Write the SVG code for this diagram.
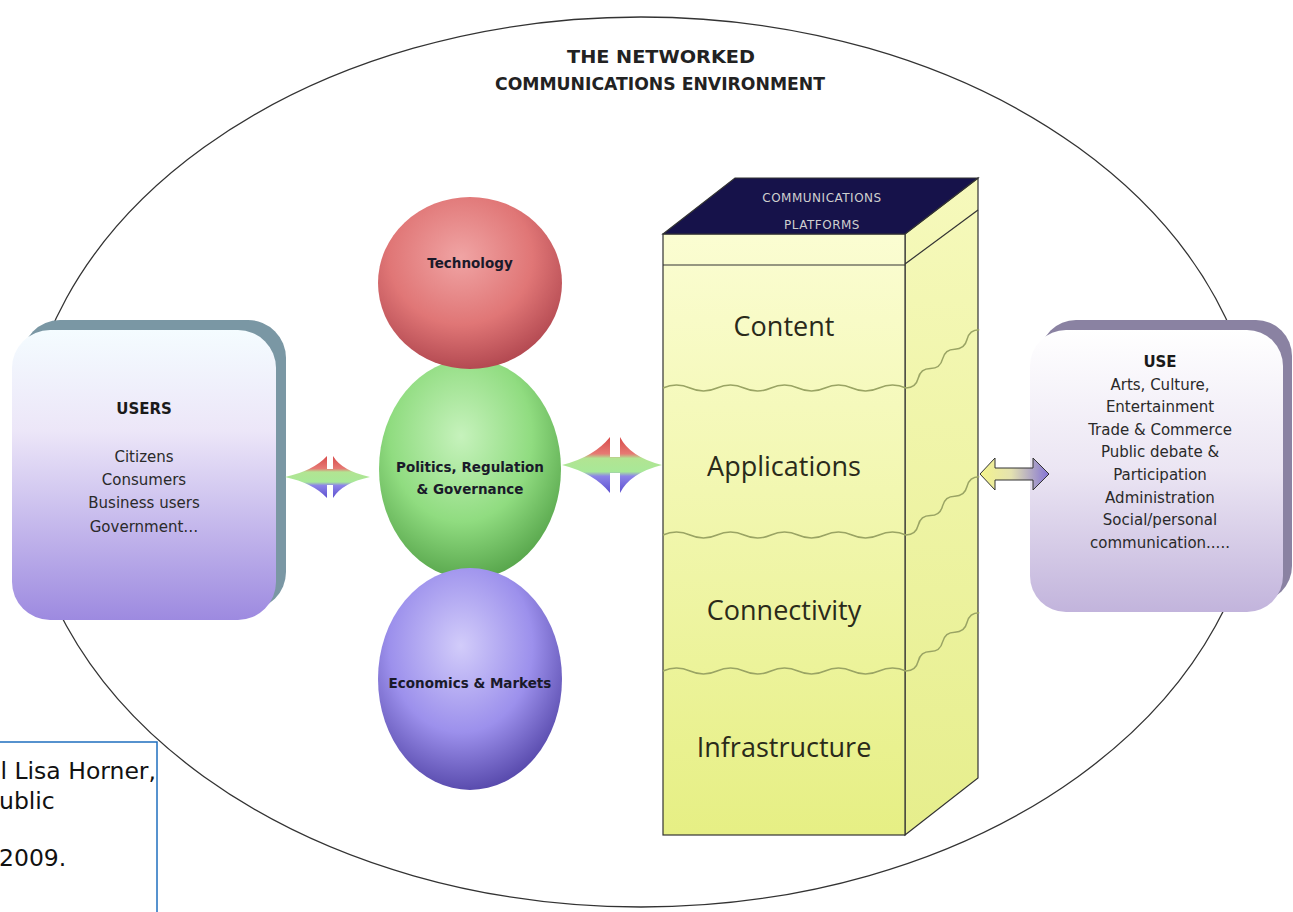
<svg xmlns="http://www.w3.org/2000/svg" width="1293" height="912" viewBox="0 0 1293 912">
<defs>
<style>
.ttl{font-family:"DejaVu Sans",sans-serif;font-weight:bold;font-size:17px;fill:#222;text-anchor:middle}
.sph{font-family:"DejaVu Sans",sans-serif;font-weight:bold;font-size:13.5px;fill:#1a1a2a;text-anchor:middle}
.box{font-family:"DejaVu Sans",sans-serif;font-size:15px;fill:#2a2a2a;text-anchor:middle}
.boxb{font-family:"DejaVu Sans",sans-serif;font-size:15px;font-weight:bold;fill:#1a1a1a;text-anchor:middle}
.layer{font-family:"Open Sans",sans-serif;font-size:27px;fill:#2a2a1a;text-anchor:middle}
.plat{font-family:"DejaVu Sans",sans-serif;font-size:12px;fill:#cfcfcf;text-anchor:middle;letter-spacing:0.5px}
.cite{font-family:"DejaVu Sans",sans-serif;font-size:23.5px;fill:#111}
.wave{fill:none;stroke:#9aa464;stroke-width:1.5}
.edge{stroke:#333;stroke-width:1.2}
</style>
<linearGradient id="gUsers" x1="0" y1="0" x2="0" y2="1">
<stop offset="0" stop-color="#f4fcff"/><stop offset="0.35" stop-color="#ece6f8"/><stop offset="1" stop-color="#9d8ae0"/>
</linearGradient>
<linearGradient id="gUse" x1="0" y1="0" x2="0" y2="1">
<stop offset="0" stop-color="#ffffff"/><stop offset="0.5" stop-color="#ebe5f3"/><stop offset="1" stop-color="#c2b4dc"/>
</linearGradient>
<radialGradient id="gRed" cx="0.45" cy="0.35" r="0.65">
<stop offset="0" stop-color="#f0a4a4"/><stop offset="0.6" stop-color="#e07676"/><stop offset="1" stop-color="#b44a52"/>
</radialGradient>
<radialGradient id="gGreen" cx="0.45" cy="0.35" r="0.65">
<stop offset="0" stop-color="#c6f2bc"/><stop offset="0.6" stop-color="#90dc80"/><stop offset="1" stop-color="#5aa84e"/>
</radialGradient>
<radialGradient id="gPurple" cx="0.45" cy="0.35" r="0.65">
<stop offset="0" stop-color="#d2ccfa"/><stop offset="0.6" stop-color="#9c90ec"/><stop offset="1" stop-color="#5a4cae"/>
</radialGradient>
<linearGradient id="gFront" x1="0" y1="0" x2="0" y2="1">
<stop offset="0" stop-color="#fbfdd2"/><stop offset="1" stop-color="#e6ef84"/>
</linearGradient>
<linearGradient id="gSide" x1="0" y1="0" x2="0" y2="1">
<stop offset="0" stop-color="#f6f9bc"/><stop offset="1" stop-color="#e6ee8c"/>
</linearGradient>
<linearGradient id="gTri" x1="0" y1="0" x2="0" y2="1">
<stop offset="0" stop-color="#d84a4a"/><stop offset="0.3" stop-color="#e67a74"/><stop offset="0.38" stop-color="#b2e492"/><stop offset="0.62" stop-color="#a8e898"/><stop offset="0.7" stop-color="#8c84e8"/><stop offset="1" stop-color="#5e50d0"/>
</linearGradient>
<linearGradient id="gYP" x1="0" y1="0" x2="1" y2="0">
<stop offset="0" stop-color="#f4f48c"/><stop offset="0.45" stop-color="#e4e2b0"/><stop offset="1" stop-color="#8474d6"/>
</linearGradient>
</defs>
<rect width="1293" height="912" fill="#ffffff"/>

<g id="environment">
<ellipse cx="641" cy="462" rx="618" ry="445" fill="none" stroke="#333" stroke-width="1.3"/>
<text class="ttl" x="661" y="63" textLength="188" lengthAdjust="spacingAndGlyphs">THE NETWORKED</text>
<text class="ttl" x="660" y="90" textLength="330" lengthAdjust="spacingAndGlyphs">COMMUNICATIONS ENVIRONMENT</text>
</g>

<g id="users">
<rect x="22" y="320" width="264" height="290" rx="38" fill="#7a97a4"/>
<rect x="12" y="330" width="264" height="290" rx="38" fill="url(#gUsers)"/>
<text class="boxb" x="144" y="414">USERS</text>
<text class="box" x="144" y="462">Citizens</text>
<text class="box" x="144" y="485">Consumers</text>
<text class="box" x="144" y="508">Business users</text>
<text class="box" x="144" y="532">Government…</text>
</g>

<g id="use">
<rect x="1040" y="320" width="252" height="282" rx="36" fill="#8a82a2"/>
<rect x="1030" y="330" width="253" height="282" rx="36" fill="url(#gUse)"/>
<text class="boxb" x="1160" y="367">USE</text>
<text class="box" x="1160" y="390">Arts, Culture,</text>
<text class="box" x="1160" y="412">Entertainment</text>
<text class="box" x="1160" y="435">Trade &amp; Commerce</text>
<text class="box" x="1160" y="457">Public debate &amp;</text>
<text class="box" x="1160" y="480">Participation</text>
<text class="box" x="1160" y="503">Administration</text>
<text class="box" x="1160" y="525">Social/personal</text>
<text class="box" x="1160" y="548">communication.....</text>
</g>

<g id="politics">
<ellipse cx="470" cy="469" rx="91" ry="110" fill="url(#gGreen)"/>
<text class="sph" x="470" y="472">Politics, Regulation</text>
<text class="sph" x="470" y="494">&amp; Governance</text>
</g>
<g id="technology">
<ellipse cx="470" cy="283" rx="92" ry="86" fill="url(#gRed)"/>
<text class="sph" x="470" y="268">Technology</text>
</g>
<g id="economics">
<ellipse cx="470" cy="679" rx="92" ry="111" fill="url(#gPurple)"/>
<text class="sph" x="470" y="688">Economics &amp; Markets</text>
</g>

<g id="platforms">
<polygon points="905,234 978,178 978,778 905,835" fill="url(#gSide)" class="edge"/>
<rect x="663" y="234" width="242" height="601" fill="url(#gFront)" class="edge"/>
<polygon points="663,234 735,178 978,178 905,234" fill="#16124a" class="edge"/>
<line x1="663" y1="265" x2="905" y2="265" class="edge"/>
<line x1="905" y1="264" x2="978" y2="210" class="edge"/>
<path class="wave" d="M663,388 q13.5,-6 27,0 t27,0 t27,0 t27,0 t27,0 t27,0 t27,0 t27,0 t27,0 q9.8,-0.1 12.2,-9.7 t12.2,-9.7 t12.2,-9.7 t12.2,-9.7 t12.2,-9.7 t12.2,-9.7"/>
<path class="wave" d="M663,535 q13.5,-6 27,0 t27,0 t27,0 t27,0 t27,0 t27,0 t27,0 t27,0 t27,0 q9.8,-0.1 12.2,-9.7 t12.2,-9.7 t12.2,-9.7 t12.2,-9.7 t12.2,-9.7 t12.2,-9.7"/>
<path class="wave" d="M663,671 q13.5,-6 27,0 t27,0 t27,0 t27,0 t27,0 t27,0 t27,0 t27,0 t27,0 q9.8,-0.1 12.2,-9.7 t12.2,-9.7 t12.2,-9.7 t12.2,-9.7 t12.2,-9.7 t12.2,-9.7"/>
<text class="plat" x="822" y="202">COMMUNICATIONS</text>
<text class="plat" x="822" y="229">PLATFORMS</text>
<text class="layer" x="784" y="336">Content</text>
<text class="layer" x="784" y="476">Applications</text>
<text class="layer" x="784" y="620">Connectivity</text>
<text class="layer" x="784" y="757">Infrastructure</text>
</g>

<g id="connectors">
<path fill="url(#gTri)" transform="translate(285,477)" d="M0,0 Q28,-6 42,-21 L42,-8 L48,-8 L48,-21 Q57,-6 85,0 Q57,6 48,21 L48,8 L42,8 L42,21 Q28,6 0,0 Z"/>
<path fill="url(#gTri)" transform="translate(562,465)" d="M0,0 Q32,-8 48,-28 L48,-8 L58,-8 L58,-28 Q68,-8 100,0 Q68,8 58,28 L58,8 L48,8 L48,28 Q32,8 0,0 Z"/>
<path fill="url(#gYP)" stroke="#333" stroke-width="1" d="M980,474 L995,458 L995,468 L1033,468 L1033,458 L1049,474 L1033,490 L1033,480 L995,480 L995,490 Z"/>
</g>

<g id="citation">
<rect x="-2" y="742" width="159" height="175" fill="#ffffff" stroke="#1f6fbf" stroke-width="1.5"/>
<text class="cite" x="156" y="779" text-anchor="end">l Lisa Horner,</text>
<text class="cite" x="-1" y="809">ublic</text>
<text class="cite" x="-1" y="866">2009.</text>
</g>
</svg>
